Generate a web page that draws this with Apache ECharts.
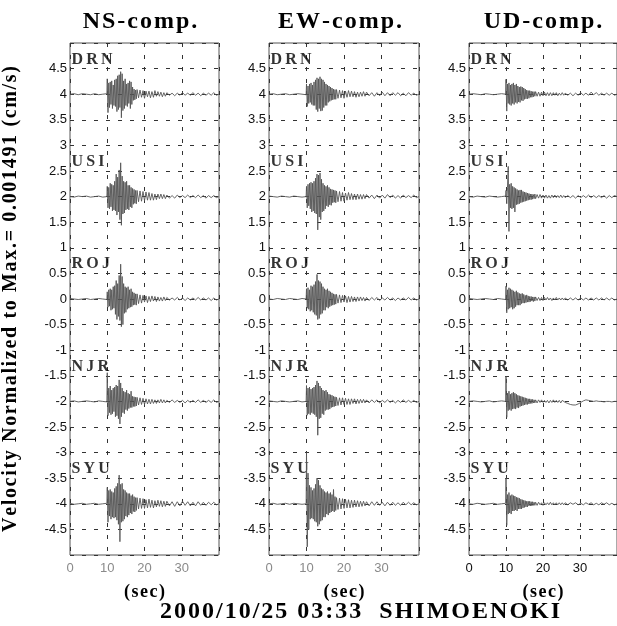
<!DOCTYPE html>
<html>
<head>
<meta charset="utf-8">
<script src="https://cdn.jsdelivr.net/npm/echarts@6.0.0/dist/echarts.min.js"></script>
<style>
html, body { margin: 0; padding: 0; background: #fff; }
#chart { width: 617px; height: 626px; }
</style>
</head>
<body>
<div id="chart"></div>
<script>
var components = ['NS-comp.', 'EW-comp.', 'UD-comp.'];
var stations = ['DRN', 'USI', 'ROJ', 'NJR', 'SYU'];
var offsets = [4, 2, 0, -2, -4];
var yTicks = [-4.5, -4, -3.5, -3, -2.5, -2, -1.5, -1, -0.5, 0, 0.5, 1, 1.5, 2, 2.5, 3, 3.5, 4, 4.5];
var xTicks = [0, 10, 20, 30];

// sampling of the records: [start sec, step sec, count]
var sampleSegments = [[0, 1.1, 10], [10, 0.2, 40], [18, 0.4, 20], [26, 0.7, 21]];

// trace amplitudes, in 1/100 of the normalised unit
var ns_DRN = [0, 1, -1, 1, 0, -1, 1, -1, 0, 1,
  30, -36, 22, -26, 24, -20, 26, -28, 18, -22,
  28, -24, 30, -34, 36, -30, 38, -26, 44, -46,
  40, -32, 26, -28, 30, -22, 20, -24, 22, -18,
  26, -28, 24, -20, 14, -12, 10, -11, 8, -9,
  9, -7, 8, -6, 7, -8, 6, -5, 6, -7, 5, -6, 7, -4, 5, -4, 4, -5, 3, -4,
  3, -2, 2, -3, 2, -2, 3, -2, 2, -2, 3, -2, 2, -3, 2, -2, 2, -2, 3, -2, 0];
var ns_USI = [0, -1, 1, 0, 1, -1, 0, 1, -1, 0,
  20, -22, 18, -24, 26, -20, 24, -28, 22, -26,
  30, -28, 44, -36, 38, -30, 52, -45, 66, -56,
  40, -34, 30, -32, 28, -26, 30, -24, 22, -26,
  22, -20, 18, -22, 16, -15, 14, -13, 12, -14,
  12, -10, 11, -9, 10, -8, 9, -7, 8, -7, 6, -7, 5, -6, 5, -4, 5, -4, 4, -4,
  3, -3, 2, -3, 3, -2, 2, -2, 3, -2, 2, -2, 3, -2, 2, -3, 2, -2, 2, -2, 0];
var ns_ROJ = [1, 0, -1, 0, 1, -1, 0, 1, 0, -1,
  14, -16, 18, -14, 20, -22, 18, -20, 24, -18,
  26, -30, 36, -40, 30, -34, 46, -42, 68, -54,
  44, -50, 30, -28, 24, -26, 22, -20, 24, -18,
  18, -16, 20, -15, 14, -12, 12, -11, 10, -12,
  10, -9, 8, -8, 7, -6, 6, -7, 5, -5, 6, -4, 5, -5, 4, -4, 3, -4, 4, -3,
  3, -2, 2, -2, 3, -2, 2, -3, 2, -2, 2, -2, 3, -2, 2, -2, 2, -3, 2, -2, 0];
var ns_NJR = [0, 1, -1, 0, 1, 0, -1, 1, 0, -1,
  56, -28, 26, -22, 30, -26, 22, -24, 26, -20,
  28, -30, 32, -28, 30, -34, 42, -44, 36, -30,
  26, -22, 20, -24, 18, -16, 22, -18, 16, -14,
  14, -12, 20, -12, 10, -10, 9, -10, 8, -9,
  8, -7, 7, -6, 6, -6, 5, -5, 4, -5, 4, -4, 3, -4, 3, -3, 4, -3, 3, -3,
  2, -2, 3, -2, 2, -2, 2, -3, 2, -2, 2, -2, 3, -2, 2, -2, 2, -2, 3, -2, 0];
var ns_SYU = [1, -1, 0, 1, -1, 0, 1, -1, 0, 1,
  32, -36, 26, -24, 28, -30, 24, -26, 22, -28,
  30, -26, 34, -32, 40, -40, 56, -74, 38, -36,
  40, -34, 28, -30, 26, -24, 22, -26, 20, -22,
  20, -18, 16, -20, 18, -15, 14, -16, 12, -13,
  12, -10, 11, -9, 10, -9, 8, -8, 9, -7, 7, -8, 6, -6, 7, -5, 6, -6, 5, -5,
  5, -4, 4, -5, 4, -4, 5, -3, 4, -4, 3, -4, 4, -3, 3, -3, 3, -2, 3, -2, 0];

var ew_DRN = [0, 1, -1, 0, 1, -1, 0, 1, 0, -1,
  20, -24, 16, -18, 20, -16, 22, -20, 18, -22,
  24, -22, 28, -30, 32, -34, 30, -28, 34, -33,
  30, -32, 28, -26, 24, -22, 20, -22, 18, -16,
  16, -14, 14, -12, 12, -11, 10, -10, 9, -10,
  9, -8, 8, -7, 7, -8, 6, -6, 7, -5, 6, -5, 5, -6, 4, -5, 4, -4, 5, -4,
  4, -3, 3, -4, 3, -3, 4, -3, 3, -3, 3, -2, 3, -3, 2, -3, 3, -2, 2, -2, 0];
var ew_USI = [1, 0, -1, 1, 0, -1, 1, 0, -1, 0,
  20, -22, 24, -18, 26, -24, 28, -30, 26, -28,
  30, -32, 36, -34, 44, -65, 42, -40, 46, -45,
  34, -30, 26, -28, 22, -24, 20, -18, 22, -20,
  18, -16, 15, -17, 14, -12, 13, -11, 12, -12,
  11, -10, 10, -9, 8, -9, 7, -7, 8, -6, 6, -6, 5, -6, 5, -5, 4, -5, 4, -4,
  4, -3, 3, -4, 3, -3, 3, -3, 4, -2, 3, -3, 2, -3, 3, -2, 2, -2, 3, -2, 0];
var ew_ROJ = [0, -1, 1, 0, -1, 1, 0, -1, 1, 0,
  20, -18, 22, -20, 18, -24, 26, -22, 24, -26,
  28, -30, 34, -32, 48, -40, 36, -38, 34, -30,
  30, -28, 24, -22, 20, -22, 18, -16, 20, -18,
  16, -15, 14, -13, 12, -12, 10, -11, 9, -10,
  9, -8, 8, -7, 7, -6, 6, -7, 5, -6, 5, -5, 4, -5, 4, -4, 4, -3, 3, -4,
  3, -3, 3, -2, 3, -3, 2, -2, 3, -2, 2, -3, 2, -2, 2, -2, 3, -2, 2, -2, 0];
var ew_NJR = [1, 0, -1, 1, 0, -1, 0, 1, -1, 0,
  31, -27, 26, -24, 28, -26, 24, -22, 26, -24,
  28, -26, 32, -30, 40, -66, 36, -34, 30, -32,
  26, -24, 22, -26, 20, -18, 22, -16, 18, -16,
  14, -15, 13, -12, 12, -11, 10, -10, 9, -9,
  8, -8, 7, -7, 7, -6, 6, -6, 5, -6, 5, -4, 5, -5, 4, -4, 4, -3, 4, -3,
  3, -3, 3, -2, 3, -3, 2, -2, 3, -2, 2, -3, 2, -2, 3, -2, 2, -2, 2, -2, 0];
var ew_SYU = [0, 1, -1, 0, 1, -1, 1, 0, -1, 0,
  100, -84, 60, -50, 36, -30, 32, -28, 26, -30,
  30, -34, 38, -36, 50, -44, 46, -40, 36, -34,
  30, -32, 28, -26, 24, -26, 22, -20, 24, -22,
  20, -18, 22, -16, 18, -14, 28, -16, 14, -13,
  12, -11, 11, -10, 10, -9, 9, -8, 8, -8, 7, -7, 7, -6, 6, -6, 5, -5, 5, -4,
  4, -4, 4, -3, 4, -3, 3, -4, 3, -3, 3, -3, 2, -3, 3, -2, 3, -2, 2, -2, 0];

var ud_DRN = [0, 1, 0, -1, 1, 0, -1, 0, 1, 0,
  29, -33, 20, -18, 22, -20, 18, -22, 20, -18,
  22, -20, 18, -16, 20, -18, 16, -15, 14, -16,
  15, -12, 14, -13, 12, -10, 10, -9, 8, -9,
  7, -8, 7, -6, 6, -6, 5, -5, 5, -4,
  5, -4, 4, -4, 4, -3, 4, -3, 3, -3, 3, -3, 3, -2, 3, -3, 2, -2, 3, -2,
  2, -2, 2, -3, 2, -2, 3, -2, 2, -2, 4, -1, 3, -2, 2, -2, 2, -2, 2, -2, 0];
var ud_USI = [0, -1, 1, 0, -1, 1, 0, -1, 0, 1,
  12, -14, 18, 59, -68, 24, -22, 26, -24, 20,
  -22, 18, -30, 16, -16, 14, -15, 12, -14, 13,
  -12, 13, -11, 10, -10, 9, -9, 8, -8, 7,
  -7, 6, -6, 5, -6, 5, -5, 4, -4, 5,
  -4, 4, -3, 4, -3, 3, -3, 3, -3, 2, -3, 3, -2, 3, -2, 2, -2, 3, -2, 2,
  -2, 2, -2, 2, -3, 2, -2, 2, -2, 3, -2, 2, -2, 2, -2, 2, -3, 2, -2, 2, 0];
var ud_ROJ = [1, 0, -1, 0, 1, 0, -1, 1, 0, -1,
  25, -27, 18, -20, 22, -18, 20, -16, 18, -20,
  16, -18, 14, -15, 16, -12, 13, -12, 11, -12,
  10, -9, 11, -8, 9, -8, 7, -7, 8, -6,
  6, -6, 5, -5, 5, -4, 4, -5, 4, -4,
  4, -3, 3, -3, 3, -3, 3, -2, 3, -2, 2, -3, 2, -2, 3, -2, 2, -2, 2, -2,
  2, -2, 2, -2, 2, -2, 2, -2, 2, -2, 2, -2, 2, -2, 2, -2, 2, -2, 2, -2, 0];
var ud_NJR = [0, 1, 0, -1, 0, 1, -1, 0, 1, 0,
  49, -31, 16, -18, 20, -16, 14, -18, 16, -15,
  18, -14, 16, -15, 14, -12, 12, -13, 11, -10,
  10, -9, 9, -8, 8, -7, 7, -6, 6, -6,
  5, -5, 5, -4, 4, -4, 4, -3, 3, -3,
  3, -3, 3, -2, 3, -2, 2, -2, 2, -3, 2, -2, 3, -2, 2, -2, 2, -3, 2, -1,
  -2, -4, -6, -7, -7, -5, -2, 1, 3, 2, 1, 0, 1, 0, 0, -1, 0, 0, -1, 0, 0];
var ud_SYU = [0, -1, 1, 0, -1, 0, 1, -1, 0, 1,
  50, -42, 18, -20, 22, -18, 16, -20, 18, -14,
  16, -14, 15, -12, 13, -14, 12, -10, 11, -10,
  9, -10, 8, -8, 7, -7, 6, -6, 5, -6,
  5, -4, 5, -4, 4, -4, 4, -3, 3, -3,
  3, -3, 3, -2, 2, -3, 2, -2, 2, -2, 3, -2, 2, -2, 2, -2, 2, -2, 2, -2,
  2, -2, 2, -1, 2, -2, 1, -2, 2, -1, 2, -2, 1, -2, 2, -1, 2, -2, 1, -2, 0];

var traces = [
  [ns_DRN, ns_USI, ns_ROJ, ns_NJR, ns_SYU],
  [ew_DRN, ew_USI, ew_ROJ, ew_NJR, ew_SYU],
  [ud_DRN, ud_USI, ud_ROJ, ud_NJR, ud_SYU]
];

var times = [];
sampleSegments.forEach(function (s) {
  for (var k = 0; k < s[2]; k++) times.push(+(s[0] + k * s[1]).toFixed(2));
});

var serif = '"Liberation Serif", "Times New Roman", serif';
var sans = '"Liberation Sans", Arial, sans-serif';
function spaced(str, gap) { return str.split('').join(gap || '\u200A'); }

var panelLeft = [69, 269, 469];
var titleX = [140, 340, 543];
var xLabelColor = ['#8a8a8a', '#8a8a8a', '#111'];

var chart = echarts.init(document.getElementById('chart'));

var grids = [], xAxes = [], yAxes = [], series = [], graphics = [];

panelLeft.forEach(function (left, p) {
  grids.push({ left: left, top: 43, width: 150, height: 512, show: true, borderColor: '#555', borderWidth: 1, backgroundColor: '#fff' });

  xAxes.push({
    gridIndex: p, type: 'value', min: 0, max: 40, interval: 10,
    name: spaced('(sec)'), nameLocation: 'middle', nameGap: 28,
    nameTextStyle: { fontFamily: serif, fontWeight: 'bold', fontSize: 18, color: '#000' },
    axisLine: { show: false },
    axisTick: { show: true, inside: true, length: 4, lineStyle: { color: '#333' } },
    axisLabel: {
      showMaxLabel: false, margin: 7, fontFamily: sans, fontSize: 13, color: xLabelColor[p],
      formatter: function (v) { return xTicks.indexOf(v) >= 0 ? String(v) : ''; }
    },
    splitLine: { show: true, lineStyle: { color: '#333', type: [4, 8], width: 1 } }
  });

  yAxes.push({
    gridIndex: p, type: 'value', min: -5, max: 5, interval: 0.5,
    name: p === 0 ? spaced('Velocity Normalized to Max.= 0.001491 (cm/s)') : '',
    nameLocation: 'middle', nameGap: 49, nameRotate: 90,
    nameTextStyle: { fontFamily: serif, fontWeight: 'bold', fontSize: 20, color: '#000' },
    axisLine: { show: false },
    axisTick: { show: true, inside: true, length: 4, lineStyle: { color: '#333' } },
    axisLabel: {
      showMinLabel: false, showMaxLabel: false, margin: 3, fontFamily: sans, fontSize: 13, color: '#111',
      formatter: function (v) { return yTicks.indexOf(v) >= 0 ? String(v) : ''; }
    },
    splitLine: { show: true, lineStyle: { color: '#333', type: [4, 8], width: 1 } }
  });

  stations.forEach(function (st, s) {
    var vals = traces[p][s];
    series.push({
      type: 'line', xAxisIndex: p, yAxisIndex: p, name: components[p] + ' ' + st,
      showSymbol: false, silent: true, animation: false,
      lineStyle: { color: '#555', width: 0.9 },
      data: times.map(function (t, i) { return [t, offsets[s] + vals[i] / 100]; })
    });
  });

  series.push({
    type: 'scatter', xAxisIndex: p, yAxisIndex: p, symbolSize: 1, silent: true, animation: false,
    itemStyle: { color: 'rgba(0,0,0,0)' },
    label: {
      show: true, position: 'right', distance: 1,
      formatter: function (d) { return spaced(d.name, '\u2009'); },
      fontFamily: serif, fontWeight: 'bold', fontSize: 16, color: '#000'
    },
    data: stations.map(function (st, s) { return { name: st, value: [0, offsets[s] + 0.68] }; })
  });

  graphics.push({
    type: 'text', x: titleX[p], y: 22,
    style: { text: spaced(components[p]), textAlign: 'center', textVerticalAlign: 'middle',
      font: 'bold 24px ' + serif, fill: '#000' }
  });
});

graphics.push({
  type: 'text', x: 360, y: 612,
  style: { text: spaced('2000/10/25 03:33  SHIMOENOKI'), textAlign: 'center', textVerticalAlign: 'middle',
    font: 'bold 24px ' + serif, fill: '#000' }
});

chart.setOption({
  backgroundColor: '#fff',
  animation: false,
  grid: grids,
  xAxis: xAxes,
  yAxis: yAxes,
  series: series,
  graphic: graphics
});
</script>
</body>
</html>
